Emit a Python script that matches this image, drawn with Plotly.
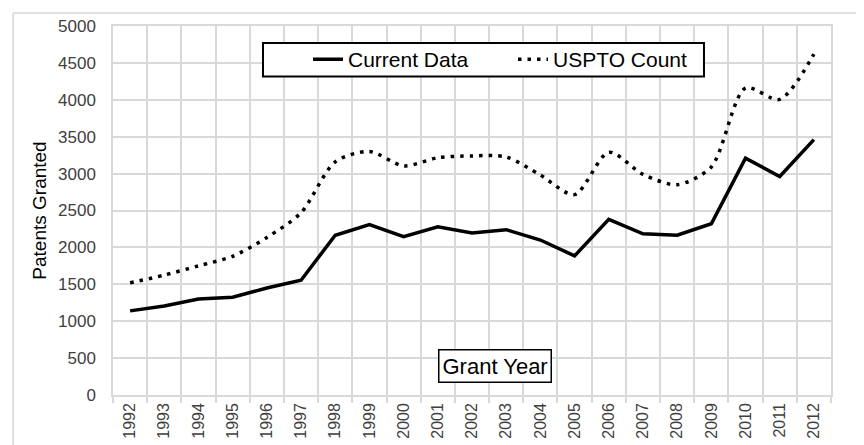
import plotly.graph_objects as go

years = [str(y) for y in range(1992, 2013)]
current_data = [1140, 1205, 1300, 1325, 1450, 1555, 2165, 2310, 2145, 2280, 2195, 2240, 2100, 1885,
                2380, 2185, 2165, 2320, 3210, 2960, 3460]
uspto_count = [1520, 1625, 1750, 1880, 2135, 2470, 3160, 3300, 3105, 3215, 3240, 3225, 2980, 2715,
               3290, 2990, 2850, 3090, 4160, 4005, 4620]
y_ticks = list(range(0, 5001, 500))

font_family = "Liberation Sans, Arial, sans-serif"
grid_col = "#d9d9d9"

fig = go.Figure()
fig.add_trace(go.Scatter(x=years, y=current_data, name="Current Data", mode="lines",
                         line=dict(color="black", width=3.5)))
fig.add_trace(go.Scatter(x=years, y=uspto_count, name="USPTO Count", mode="lines",
                         line=dict(color="black", width=3.5, dash="3.5px,6px", shape="spline", smoothing=0.8)))

# page body has an 8px margin, so the figure is a bit smaller than the window
fig.update_layout(
    width=856, height=437,
    margin=dict(l=105, r=33, t=18, b=50),
    paper_bgcolor="white", plot_bgcolor="white",
    font=dict(family=font_family, color="#404040"),
    showlegend=True,
    legend=dict(orientation="h", x=0.2716, y=0.909, xanchor="left", yanchor="middle",
                borderwidth=0, bgcolor="rgba(0,0,0,0)",
                font=dict(size=21, color="black", family=font_family),
                entrywidth=160, entrywidthmode="pixels"),
)
fig.update_xaxes(type="category", range=[-0.5, 20.5], tickson="boundaries", automargin=False,
                 showgrid=True, gridcolor=grid_col, gridwidth=1.5,
                 ticks="outside", ticklen=6, tickcolor=grid_col, tickwidth=1.5,
                 tickangle=-90, tickfont=dict(size=16, color="#404040"),
                 showline=True, linecolor=grid_col, linewidth=1.5, mirror=True)
fig.update_yaxes(range=[0, 5000], tickvals=y_ticks, showgrid=True, gridcolor=grid_col, gridwidth=1.5,
                 automargin=False,
                 ticks="outside", ticklen=12, tickcolor="rgba(0,0,0,0)",
                 tickfont=dict(size=17, color="#404040"), zeroline=False,
                 showline=True, linecolor=grid_col, linewidth=1.5, mirror=True,
                 title=dict(text="Patents Granted", font=dict(size=19, color="black"), standoff=6))

fig.add_annotation(text="Grant Year", xref="paper", yref="paper", x=0.532, y=0.0786,
                   xanchor="center", yanchor="middle",
                   showarrow=False, font=dict(size=22, color="black"),
                   bordercolor="black", borderwidth=1.5, borderpad=3, bgcolor="white")

# legend frame
fig.add_shape(type="rect", xref="paper", yref="paper", x0=0.2089, y0=0.8631, x1=0.8231, y1=0.954,
              line=dict(color="black", width=2), fillcolor="white", layer="above")

# outer chart border
fig.add_shape(type="rect", xref="paper", yref="paper", x0=-0.139, y0=-0.3, x1=1.2, y1=1.035,
              line=dict(color=grid_col, width=1.5), layer="below")

fig.write_html("out.html")
